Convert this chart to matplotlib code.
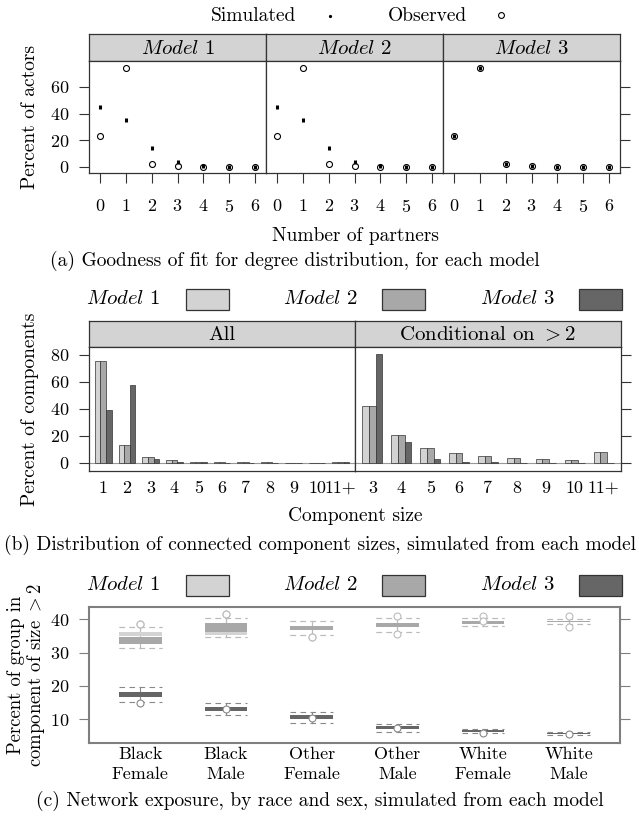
import matplotlib
matplotlib.use("Agg")
import matplotlib.pyplot as plt
from matplotlib.patches import Rectangle

plt.rcParams["font.family"] = "serif"
plt.rcParams["font.serif"] = ["cmr10"]
plt.rcParams["mathtext.fontset"] = "cm"
plt.rcParams["axes.unicode_minus"] = False
plt.rcParams["axes.formatter.use_mathtext"] = True

# (a) degree distribution
partners = [0, 1, 2, 3, 4, 5, 6]
observed_deg = [23, 74.5, 2.5, 0.5, 0.2, 0.1, 0.1]
sim_deg_m1 = [45, 35.5, 14.5, 4.0, 0.8, 0.2, 0.1]
sim_deg_m2 = [45, 35.5, 14.5, 4.0, 0.8, 0.2, 0.1]
sim_deg_m3 = [23, 74.5, 2.5, 0.5, 0.2, 0.1, 0.1]

# (b) component sizes
sizes_all = ["1", "2", "3", "4", "5", "6", "7", "8", "9", "10", "11+"]
comp_all_m1 = [75, 13.5, 4.5, 2.0, 1.0, 0.6, 0.4, 0.3, 0.2, 0.2, 1.0]
comp_all_m2 = [75, 13.5, 4.5, 2.0, 1.0, 0.6, 0.4, 0.3, 0.2, 0.2, 1.0]
comp_all_m3 = [39, 57.5, 2.8, 0.6, 0.3, 0.1, 0.1, 0.1, 0.1, 0.1, 0.3]
sizes_cond = ["3", "4", "5", "6", "7", "8", "9", "10", "11+"]
comp_cond_m1 = [42, 20.3, 11.3, 7.2, 4.8, 3.3, 2.6, 2.0, 8.3]
comp_cond_m2 = [42, 20.3, 11.3, 7.2, 4.8, 3.3, 2.6, 2.0, 8.3]
comp_cond_m3 = [80.5, 15.8, 3.2, 0.9, 0.3, 0.2, 0.1, 0.1, 0.2]

# (c) exposure by race and sex
groups = ["Black\nFemale", "Black\nMale", "Other\nFemale", "Other\nMale",
          "White\nFemale", "White\nMale"]
m1_box_lo = [35.0, 35.3, 36.8, 37.6, 38.5, 39.1]
m1_box_hi = [36.3, 37.0, 38.1, 39.0, 39.6, 39.6]
m1_wlo = [31.5, 34.6, 35.3, 36.1, 38.0, 38.5]
m1_whi = [37.8, 40.3, 39.4, 40.5, 40.5, 40.2]
m1_obs = [38.5, 41.5, 34.8, 41.0, 41.0, 41.0]
m2_box_lo = [32.6, 36.3, 36.8, 37.8, 38.7, 39.1]
m2_box_hi = [34.6, 38.8, 38.1, 38.9, 39.5, 39.5]
m2_wlo = [31.3, 34.6, 35.3, 36.1, 38.0, 38.5]
m2_whi = [37.8, 40.3, 39.4, 40.5, 40.5, 40.2]
m2_obs = [38.5, 41.5, 34.8, 35.6, 39.5, 37.8]
m3_box_lo = [16.8, 12.5, 10.1, 7.0, 6.2, 5.5]
m3_box_hi = [18.1, 13.6, 11.3, 8.0, 6.8, 6.0]
m3_wlo = [15.3, 11.3, 8.8, 6.3, 5.9, 5.3]
m3_whi = [19.6, 14.8, 12.1, 8.6, 7.0, 6.3]
m3_obs = [14.8, 13.0, 10.5, 7.5, 5.8, 5.7]

models = ["Model 1", "Model 2", "Model 3"]
model_cols = ["#d3d3d3", "#a8a8a8", "#666666"]
frame_col = "#333333"
FS = 14      # labels / captions
TFS = 13     # tick labels

W, H = 639, 822
fig = plt.figure(figsize=(W / 100, H / 100), dpi=100)


def add_ax(x, y, w, h):
    return fig.add_axes([x / W, 1 - (y + h) / H, w / W, h / H])


def itl(s):
    return r"$\mathit{%s}$" % s.replace(" ", r"\ ")


def strip(x, y, w, h, label, italic=True):
    s = add_ax(x, y, w, h)
    s.set_facecolor("#d3d3d3")
    s.set_xticks([])
    s.set_yticks([])
    for sp in s.spines.values():
        sp.set_color(frame_col)
        sp.set_linewidth(0.9)
    s.text(0.5, 0.45, itl(label) if italic else label, ha="center",
           va="center", fontsize=15, transform=s.transAxes)


def style(ax):
    for sp in ax.spines.values():
        sp.set_color(frame_col)
        sp.set_linewidth(0.9)
    ax.tick_params(direction="out", length=7, width=0.8, color=frame_col,
                   labelsize=TFS, pad=7)


def legend_row(y):
    xs_text = [123, 320, 517]
    xs_box = [186, 382, 579]
    for t, bx, c, m in zip(xs_text, xs_box, model_cols, models):
        fig.text(t / W, 1 - y / H, itl(m), ha="center", va="center",
                 fontsize=15)
        fig.patches.append(Rectangle((bx / W, 1 - (y + 10.5) / H), 43 / W,
                                     21 / H, transform=fig.transFigure,
                                     facecolor=c, edgecolor=frame_col, lw=0.9))


# ---------- panel (a) ----------
fig.text(254 / W, 1 - 16 / H, "Simulated", ha="center", va="center", fontsize=FS)
fig.text(427 / W, 1 - 16 / H, "Observed", ha="center", va="center", fontsize=FS)
fig.lines.append(plt.Line2D([330 / W], [1 - 16 / H], marker="o", ms=1.3,
                            color="black", transform=fig.transFigure))
fig.lines.append(plt.Line2D([501 / W], [1 - 15 / H], marker="o", ms=4.2,
                            mfc="none", mec="black", mew=0.8,
                            transform=fig.transFigure))

sims = [sim_deg_m1, sim_deg_m2, sim_deg_m3]
for i in range(3):
    x0 = 89 + 177 * i
    strip(x0, 34, 177, 27, models[i])
    ax = add_ax(x0, 61, 177, 112)
    style(ax)
    ax.plot(partners, observed_deg, "o", ms=4.3, mfc="none", mec="black", mew=0.8)
    ax.plot(partners, sims[i], "|", ms=3.5, mew=2.2, color="black")
    ax.set_xlim(-0.42, 6.42)
    ax.set_ylim(-4.5, 79.4)
    ax.set_xticks(partners)
    ax.set_yticks([0, 20, 40, 60])
    ax.tick_params(axis="x", pad=11)
    if i == 0:
        ax.set_ylabel("Percent of actors", fontsize=FS, labelpad=8)
    elif i == 2:
        ax.yaxis.tick_right()
        ax.tick_params(axis="y", labelright=False)
    else:
        ax.tick_params(axis="y", left=False, labelleft=False)
fig.text(355 / W, 1 - 236 / H, "Number of partners", ha="center",
         va="center", fontsize=FS)
fig.text(295 / W, 1 - 261 / H,
         "(a) Goodness of fit for degree distribution, for each model",
         ha="center", va="center", fontsize=FS)

# ---------- panel (b) ----------
legend_row(299)
bw = 0.233
panels_b = [("All", sizes_all, [comp_all_m1, comp_all_m2, comp_all_m3]),
            (r"Conditional on $>2$", sizes_cond,
             [comp_cond_m1, comp_cond_m2, comp_cond_m3])]
for i, (title, cats, vals) in enumerate(panels_b):
    x0 = 89 + 266 * i
    strip(x0, 321, 266, 26, title, italic=False)
    ax = add_ax(x0, 347, 266, 124)
    style(ax)
    pos = list(range(1, len(cats) + 1))
    ax.axhline(0, color="#999999", lw=0.8, zorder=0)
    for k in range(3):
        ax.bar([p + (k - 1) * bw for p in pos], vals[k], width=bw,
               color=model_cols[k], edgecolor=frame_col, linewidth=0.5)
    ax.set_xlim(0.4, len(cats) + 0.6)
    ax.set_ylim(-6, 85.7)
    ax.set_xticks(pos)
    ax.set_xticklabels(cats)
    ax.set_yticks([0, 20, 40, 60, 80])
    ax.tick_params(axis="x", length=0, pad=7)
    if i == 0:
        ax.set_ylabel("Percent of components", fontsize=FS, labelpad=8)
    else:
        ax.yaxis.tick_right()
        ax.tick_params(axis="y", labelright=False)
fig.text(355 / W, 1 - 516 / H, "Component size", ha="center", va="center",
         fontsize=FS)
fig.text(0.5, 1 - 545 / H,
         "(b) Distribution of connected component sizes, simulated from each model",
         ha="center", va="center", fontsize=FS)

# ---------- panel (c) ----------
legend_row(585)
ax = add_ax(89, 607, 531, 136)
for sp in ax.spines.values():
    sp.set_color("#7f7f7f")
    sp.set_linewidth(1.5)
ax.tick_params(direction="out", length=7, width=0.8, color="#7f7f7f",
               labelsize=TFS, pad=7)
hw = 0.25
cdata = [(m1_box_lo, m1_box_hi, m1_wlo, m1_whi, m1_obs),
         (m2_box_lo, m2_box_hi, m2_wlo, m2_whi, m2_obs),
         (m3_box_lo, m3_box_hi, m3_wlo, m3_whi, m3_obs)]
for k, (blo, bhi, wlo, whi, obs) in enumerate(cdata):
    c = model_cols[k]
    lc = "#bbbbbb" if k < 2 else "#888888"
    for g in range(len(groups)):
        x = g + 1
        ax.plot([x, x], [min(wlo[g], obs[g]), max(whi[g], obs[g])],
                color=lc, lw=0.8, zorder=1)
        for yy in (wlo[g], whi[g]):
            ax.plot([x - hw, x + hw], [yy, yy], color=lc, lw=0.8,
                    ls=(0, (5, 4)), zorder=1)
        ax.add_patch(Rectangle((x - hw, blo[g]), 2 * hw, bhi[g] - blo[g],
                               facecolor=c, edgecolor="none", zorder=2 + k))
        ax.plot([x], [obs[g]], "o", ms=5, mfc="white", mec=lc, mew=0.8,
                zorder=6)
ax.set_xlim(0.4, 6.6)
ax.set_ylim(2.9, 43.7)
ax.set_xticks(range(1, len(groups) + 1))
ax.set_xticklabels(groups, linespacing=1.35)
ax.tick_params(axis="x", length=0, pad=3)
ax.set_yticks([10, 20, 30, 40])
ax.tick_params(axis="y", right=True)
fig.text(27 / W, 1 - 675 / H,
         "Percent of group in\n" + r"component of size $>2$",
         rotation=90, ha="center", va="center", fontsize=13.5,
         linespacing=1.05, multialignment="center")
fig.text(0.5, 1 - 801 / H,
         "(c) Network exposure, by race and sex, simulated from each model",
         ha="center", va="center", fontsize=FS)

fig.savefig("out.png", dpi=100)
